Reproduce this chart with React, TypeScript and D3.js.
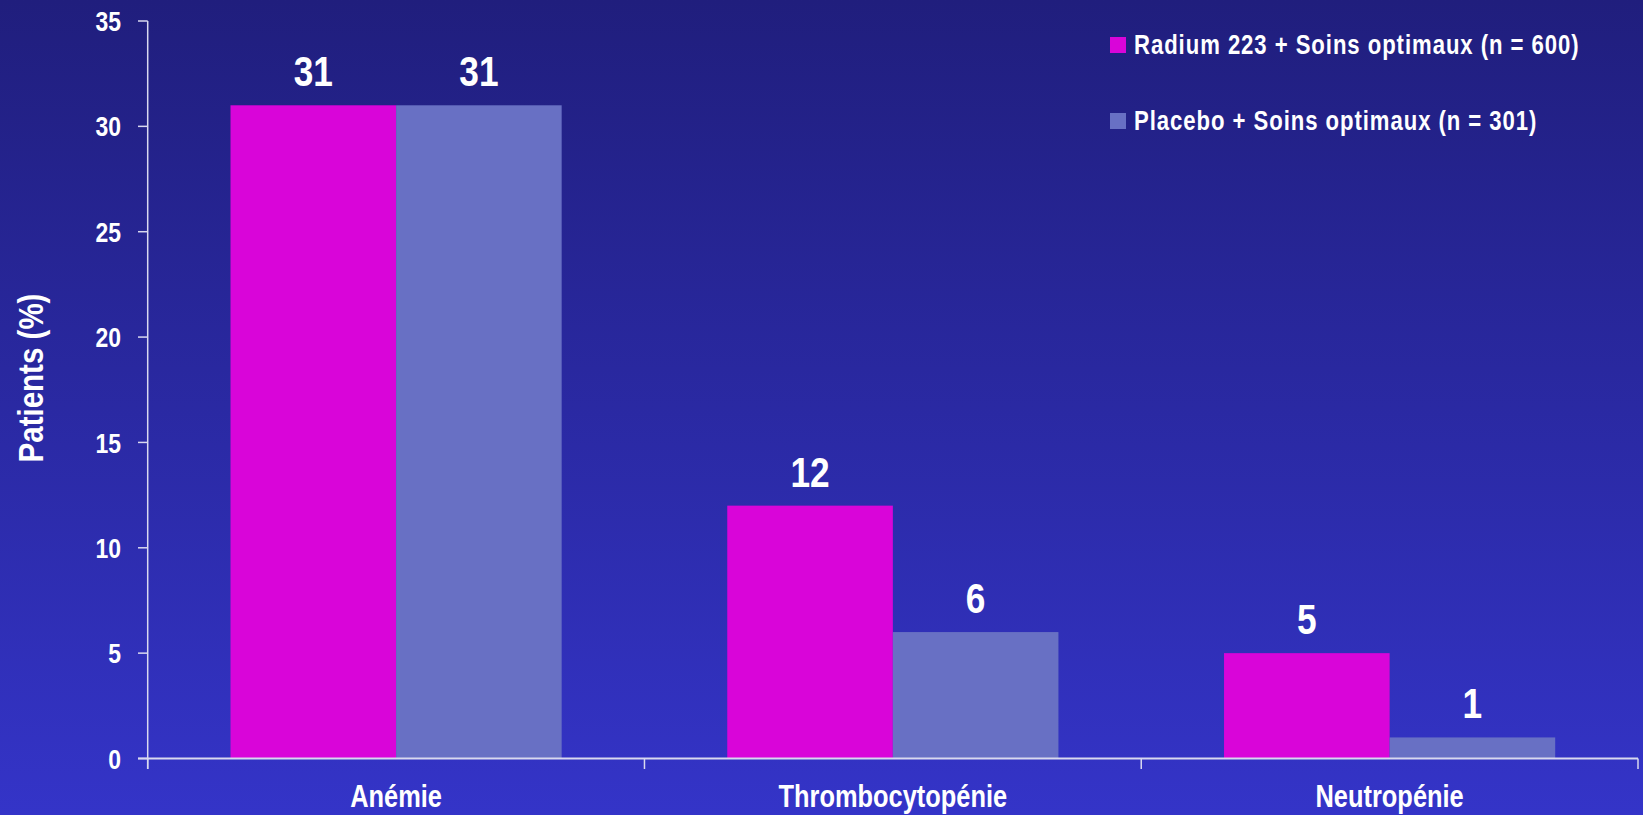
import React from "react";
import * as d3 from "d3";

// Haematological adverse events, % of patients
const categories = ["Anémie", "Thrombocytopénie", "Neutropénie"];
const seriesNames = [
  "Radium 223 + Soins optimaux (n = 600)",
  "Placebo + Soins optimaux (n = 301)",
];
const radiumValues = [31, 12, 5];
const placeboValues = [31, 6, 1];
const yTicks = [0, 5, 10, 15, 20, 25, 30, 35];
const yTitle = "Patients (%)";

const W = 1643;
const H = 815;
const FONT = "'Liberation Sans', Arial, sans-serif";
const NARROW = 0.82; // horizontal condensing of the bold sans face
const COLORS = ["#d905d9", "#6870c4"];
const AXIS = "#d9d9ef";

type CTextProps = {
  x: number;
  y: number;
  size: number;
  anchor?: "start" | "middle" | "end";
  rotate?: number;
  dy?: string;
  spacing?: number;
  children: React.ReactNode;
};

// Condensed bold text: drawn at (x, y), then squeezed along its own baseline
function CText({ x, y, size, anchor = "start", rotate = 0, dy, spacing, children }: CTextProps) {
  return (
    <text
      transform={`translate(${x},${y}) rotate(${rotate}) scale(${NARROW},1)`}
      textAnchor={anchor}
      dy={dy}
      fill="#ffffff"
      fontSize={size}
      letterSpacing={spacing}
    >
      {children}
    </text>
  );
}

export default function App() {
  const margin = { left: 147.7, right: 1638, top: 21, bottom: 758.5 };

  const y = d3.scaleLinear().domain([0, 35]).range([margin.bottom, margin.top]);
  const x0 = d3
    .scaleBand<string>()
    .domain(categories)
    .range([margin.left, margin.right])
    .paddingInner(0)
    .paddingOuter(0);
  const x1 = d3
    .scaleBand<number>()
    .domain([0, 1])
    .range([0, x0.bandwidth()])
    .paddingInner(0)
    .paddingOuter(0.5);

  const series = [radiumValues, placeboValues];
  const boundaries = [margin.left, ...categories.map((c) => (x0(c) as number) + x0.bandwidth())];

  return (
    <svg
      width={W}
      height={H}
      style={{ position: "absolute", left: 0, top: 0, display: "block" }}
      fontFamily={FONT}
      fontWeight="bold"
    >
      <defs>
        <linearGradient id="bg" x1="0" y1="0" x2="0" y2="1">
          <stop offset="0%" stopColor="#201e7d" />
          <stop offset="100%" stopColor="#3434c8" />
        </linearGradient>
      </defs>
      <rect x={0} y={0} width={W} height={H} fill="url(#bg)" />

      {/* bars with value labels */}
      {categories.map((c, ci) =>
        series.map((vals, si) => {
          const bx = (x0(c) as number) + (x1(si) as number);
          const v = vals[ci];
          return (
            <g key={`${c}-${si}`}>
              <rect
                x={bx}
                y={y(v)}
                width={x1.bandwidth()}
                height={y(0) - y(v)}
                fill={COLORS[si]}
              />
              <CText x={bx + x1.bandwidth() / 2} y={y(v) - 19} size={43} anchor="middle">
                {v}
              </CText>
            </g>
          );
        })
      )}

      {/* y axis */}
      <line x1={margin.left} x2={margin.left} y1={margin.top} y2={769} stroke={AXIS} strokeWidth={1.5} />
      {yTicks.map((t) => (
        <g key={t}>
          <line x1={138} x2={margin.left} y1={y(t)} y2={y(t)} stroke={AXIS} strokeWidth={1.5} />
          <CText x={121} y={y(t)} dy="0.36em" size={28} anchor="end">
            {t}
          </CText>
        </g>
      ))}
      <CText x={43} y={378} size={36} anchor="middle" rotate={-90}>
        {yTitle}
      </CText>

      {/* x axis */}
      <line x1={138} x2={margin.right} y1={y(0)} y2={y(0)} stroke={AXIS} strokeWidth={2} />
      {boundaries.map((b, i) => (
        <line key={i} x1={b} x2={b} y1={y(0)} y2={769} stroke={AXIS} strokeWidth={1.5} />
      ))}
      {categories.map((c) => (
        <CText key={c} x={(x0(c) as number) + x0.bandwidth() / 2} y={807} size={31} anchor="middle">
          {c}
        </CText>
      ))}

      {/* legend */}
      {seriesNames.map((name, i) => (
        <g key={name} transform={`translate(1110,${37 + i * 76})`}>
          <rect x={0} y={0} width={16} height={16} fill={COLORS[i]} />
          <CText x={24} y={17} size={27} spacing={1.15}>
            {name}
          </CText>
        </g>
      ))}
    </svg>
  );
}
